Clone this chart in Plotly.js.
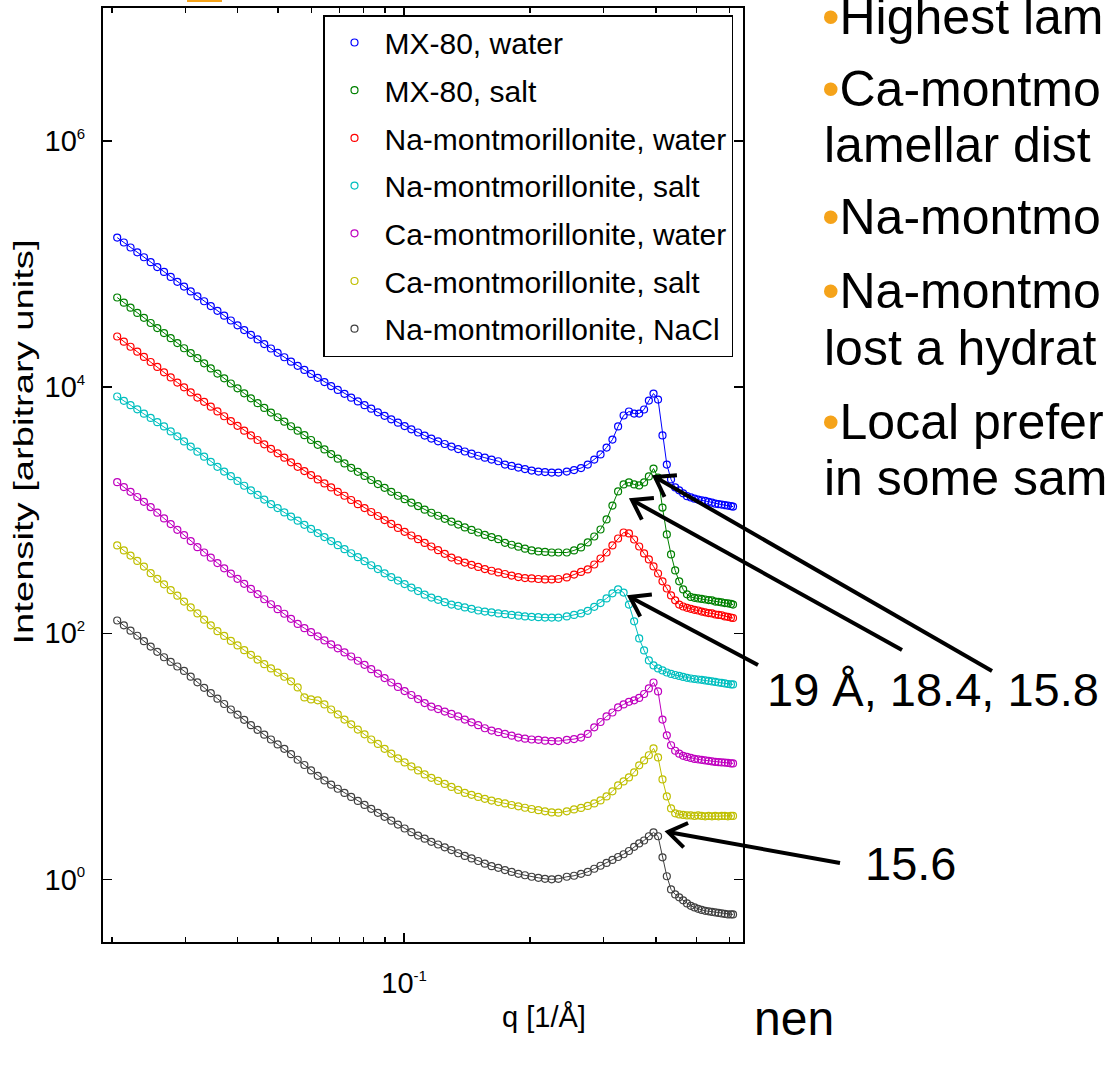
<!DOCTYPE html>
<html><head><meta charset="utf-8">
<script src="https://cdn.plot.ly/plotly-3.0.1.min.js"></script>
<style>html,body{margin:0;padding:0;background:#fff;} #chart{width:1106px;height:1070px;}</style>
</head><body><div id="chart"></div>
<script>
// scattering vector q [1/Å]
const q = [0.0206,0.02137,0.02217,0.02301,0.02387,0.02477,0.02569,0.02666,0.02766,0.02869,
0.02977,0.03088,0.03204,0.03325,0.03449,0.03578,0.03713,0.03852,0.03996,0.04146,
0.04302,0.04463,0.0463,0.04804,0.04984,0.05171,0.05365,0.05566,0.05775,0.05991,
0.06216,0.06449,0.06691,0.06942,0.07202,0.07472,0.07752,0.08043,0.08345,0.08657,
0.08982,0.09319,0.09668,0.1003,0.1041,0.108,0.112,0.1162,0.1206,0.1251,
0.1298,0.1347,0.1397,0.145,0.1504,0.156,0.1619,0.168,0.1743,0.1808,
0.1876,0.1946,0.2019,0.2095,0.2173,0.2255,0.2339,
0.245,0.255,0.265,0.275,0.285,0.295,0.305,0.315,0.325,0.335,
0.345,0.355,0.365,0.375,0.385,0.395,0.405,0.415,0.425,0.435,
0.445,0.455,0.465,0.475,0.485,0.495,0.505,0.515,0.525,0.535,
0.545,0.555,0.565,0.575,0.585,0.595,0.605,0.612];

const mx80Water = [1.642e5,1.498e5,1.364e5,1.245e5,1.136e5,1.036e5,9.45e4,8.63e4,7.87e4,7.18e4,
6.57e4,5.99e4,5.47e4,4.99e4,4.56e4,4.17e4,3.81e4,3.48e4,3.18e4,2.91e4,
2.66e4,2.44e4,2.24e4,2.06e4,1.90e4,1.75e4,1.61e4,1.49e4,1.38e4,1.28e4,
1.19e4,1.10e4,1.02e4,9.49e3,8.82e3,8.21e3,7.65e3,7.14e3,6.68e3,6.24e3,
5.85e3,5.48e3,5.14e3,4.83e3,4.54e3,4.28e3,4.04e3,3.82e3,3.63e3,3.45e3,
3.29e3,3.14e3,3.00e3,2.88e3,2.77e3,2.67e3,2.58e3,2.50e3,2.35e3,2.29e3,
2.22e3,2.16e3,2.10e3,2.06e3,2.04e3,2.02e3,2.02e3,
2.06e3,2.12e3,2.20e3,2.35e3,2.58e3,2.84e3,3.23e3,3.75e3,4.79e3,5.88e3,
6.34e3,6.10e3,6.10e3,6.58e3,7.78e3,8.87e3,7.93e3,4.05e3,2.35e3,1.78e3,
1.53e3,1.45e3,1.37e3,1.30e3,1.27e3,1.24e3,1.22e3,1.20e3,1.19e3,1.17e3,
1.15e3,1.13e3,1.12e3,1.11e3,1.10e3,1.09e3,1.08e3,1.07e3];

const mx80Salt = [5.35e4,4.86e4,4.42e4,4.01e4,3.66e4,3.32e4,3.02e4,2.75e4,2.50e4,2.28e4,
2.07e4,1.89e4,1.72e4,1.56e4,1.42e4,1.29e4,1.18e4,1.07e4,9.78e3,8.90e3,
8.11e3,7.41e3,6.78e3,6.21e3,5.69e3,5.24e3,4.81e3,4.43e3,4.07e3,3.72e3,
3.40e3,3.12e3,2.86e3,2.62e3,2.40e3,2.21e3,2.05e3,1.90e3,1.76e3,1.63e3,
1.52e3,1.41e3,1.31e3,1.23e3,1.15e3,1.08e3,1.01e3,953,901,851,
806,764,725,691,659,630,605,581,543,524,
505,487,471,462,458,453,453,
453,471,498,547,611,697,841,1090,1420,1620,
1680,1620,1590,1680,1880,2180,1840,1050,635,437,
324,264,227,207,197,194,192,190,188,186,
185,181,180,178,176,175,173,171];

const naWater = [2.58e4,2.34e4,2.13e4,1.94e4,1.76e4,1.60e4,1.46e4,1.32e4,1.20e4,1.09e4,
9.96e3,9.06e3,8.23e3,7.60e3,6.94e3,6.35e3,5.80e3,5.30e3,4.85e3,4.43e3,
4.05e3,3.72e3,3.43e3,3.15e3,2.90e3,2.67e3,2.45e3,2.25e3,2.08e3,1.93e3,
1.78e3,1.65e3,1.53e3,1.41e3,1.31e3,1.21e3,1.12e3,1.04e3,967,897,
831,773,717,667,623,581,542,507,473,442,
412,391,375,360,346,332,322,312,303,294,
286,281,279,276,274,274,276,
284,300,315,330,362,405,453,517,589,659,
647,578,507,445,398,349,306,264,231,203,
185,171,165,161,158,155,153,150,148,146,
145,142,141,140,137,136,134,133];

const naSalt = [8.39e3,7.74e3,7.14e3,6.60e3,6.09e3,5.62e3,5.19e3,4.79e3,4.37e3,3.98e3,
3.62e3,3.29e3,2.99e3,2.72e3,2.47e3,2.25e3,2.06e3,1.89e3,1.73e3,1.58e3,
1.45e3,1.33e3,1.22e3,1.12e3,1.04e3,960,887,822,761,704,
652,605,561,520,482,447,415,385,357,332,
307,286,268,251,235,220,206,195,187,179,
171,167,162,158,153,150,148,145,143,141,
139,137,136,135,134,134,134,
137,141,145,152,164,176,192,211,227,214,
171,125,90.7,72.5,60.1,54.8,51.8,49.9,48.0,46.7,
45.8,45.0,44.2,43.4,42.9,42.5,42.1,41.8,41.4,41.0,
40.6,40.2,39.8,39.5,39.1,38.7,38.4,38.4];

const caWater = [1.69e3,1.54e3,1.41e3,1.28e3,1.17e3,1.06e3,954,858,771,693,
628,561,501,453,411,372,337,305,277,252,
229,208,189,172,157,144,131,119,110,102,
94.4,87.4,81.1,75.4,69.8,64.7,59.8,55.4,51.1,47.0,
43.2,39.8,36.6,33.9,31.5,29.2,27.1,25.3,24.2,23.1,
22.1,21.1,19.9,18.9,17.9,16.9,16.2,15.7,15.2,14.7,
14.2,13.9,13.7,13.6,13.4,13.3,13.3,
13.6,13.8,14.2,15.2,17.2,19.0,21.1,22.7,25.0,26.4,
27.7,28.5,29.8,32.1,35.6,39.8,33.7,19.9,14.8,12.3,
11.1,10.5,10.1,9.89,9.70,9.53,9.44,9.35,9.26,9.18,
9.09,9.01,8.96,8.92,8.89,8.84,8.76,8.76];

const caSalt = [517,471,428,387,348,308,277,250,224,202,
181,162,145,129,116,104,95.1,86.6,79.6,72.9,
66.8,61.1,56.1,51.8,47.9,44.3,40.7,36.3,30.1,29.0,
28.5,26.4,24.0,21.9,19.9,18.2,16.5,15.1,13.7,12.6,
11.5,10.5,9.61,8.92,8.28,7.68,7.13,6.68,6.31,5.97,
5.64,5.33,5.04,4.86,4.68,4.51,4.37,4.25,4.14,4.02,
3.92,3.82,3.73,3.65,3.57,3.50,3.48,
3.57,3.70,3.81,3.95,4.14,4.38,4.72,5.19,5.80,6.25,
6.74,7.40,8.44,9.26,10.2,11.6,9.80,6.49,4.72,3.77,
3.44,3.37,3.34,3.31,3.31,3.28,3.31,3.28,3.25,3.28,
3.25,3.28,3.25,3.28,3.28,3.25,3.28,3.28];

const naNaCl = [127,116,105,95.4,86.3,78.0,70.6,63.8,58.5,53.7,
49.4,44.4,39.9,36.0,32.6,29.4,26.6,24.0,21.8,19.8,
17.9,16.4,15.0,13.7,12.5,11.5,10.4,9.38,8.50,7.68,
6.94,6.37,5.88,5.45,5.04,4.68,4.34,4.03,3.74,3.47,
3.22,3.00,2.79,2.59,2.42,2.27,2.14,2.02,1.92,1.82,
1.73,1.63,1.55,1.48,1.41,1.34,1.28,1.24,1.19,1.15,
1.11,1.08,1.05,1.03,1.01,1.00,1.01,
1.05,1.07,1.11,1.15,1.22,1.29,1.36,1.44,1.52,1.60,
1.70,1.84,1.96,2.07,2.24,2.41,2.24,1.51,1.06,0.829,
0.755,0.714,0.675,0.638,0.609,0.592,0.576,0.565,0.555,0.550,
0.544,0.539,0.534,0.529,0.524,0.519,0.519,0.519];

const seriesNames = ['MX-80, water','MX-80, salt','Na-montmorillonite, water','Na-montmorillonite, salt',
  'Ca-montmorillonite, water','Ca-montmorillonite, salt','Na-montmorillonite, NaCl'];
const seriesValues = [mx80Water, mx80Salt, naWater, naSalt, caWater, caSalt, naNaCl];
const seriesColors = ['#0000ff','#008000','#ff0000','#00bfbf','#bf00bf','#bfbf00','#404040'];

const SUP = (e) => '10<sup><span style="font-size:15px">' + e + '</span></sup>';
const yTickVals = [1, 100, 1e4, 1e6];
const yTickText = [SUP('0'), SUP('2'), SUP('4'), SUP('6')];
const xTickVals = [0.1];
const xTickText = [SUP('-1')];
const xMinorVals = [0.02,0.03,0.04,0.05,0.06,0.07,0.08,0.09,0.2,0.3,0.4,0.5,0.6];

const traces = [];
seriesValues.forEach((vals, i) => {
  // thin connecting trace (keeps the dense sampled band continuous), hidden from legend
  traces.push({type:'scatter', mode:'lines', x:q, y:vals, name:seriesNames[i], legendgroup:'g' + i,
    showlegend:false, hoverinfo:'skip', line:{color:seriesColors[i], width:1}});
  traces.push({type:'scatter', mode:'markers', x:q, y:vals, name:seriesNames[i], legendgroup:'g' + i,
    marker:{symbol:'circle-open', size:7, color:seriesColors[i], line:{width:1.2, color:seriesColors[i]}}});
});

const FONT = 'Liberation Sans, Arial, Helvetica, sans-serif';
const orange = '#f5a31a';
const bullet = '<span style="color:' + orange + '">•</span>';
function txt(t, x, y, size) {
  return {xref:'paper', yref:'paper', x:x, y:y, xanchor:'left', yanchor:'middle', showarrow:false,
    text:t, font:{family:FONT, size:size, color:'#000'}};
}

const annotations = [
  txt(bullet + 'Highest lam', 1.1203, 0.98983, 50),
  txt(bullet + 'Ca-montmo', 1.1203, 0.91381, 50),
  txt('lamellar dist', 1.1234, 0.85385, 50),
  txt(bullet + 'Na-montmo', 1.1203, 0.77570, 50),
  txt(bullet + 'Na-montmo', 1.1203, 0.69647, 50),
  txt('lost a hydrat', 1.1234, 0.63544, 50),
  txt(bullet + 'Local prefer', 1.1203, 0.55728, 50),
  txt('in some sam', 1.1234, 0.49732, 50),
  txt('19 Å, 18.4, 15.8', 1.0344, 0.27034, 47),
  txt('15.6', 1.1875, 0.08437, 47),
  txt('nen', 1.0141, -0.0814, 48)
];

// arrows (pixel geometry of the slide): head -> tail
const arrowDefs = [
  {head:[655,477], tail:[992,671]},
  {head:[632,500], tail:[902,650]},
  {head:[630,597], tail:[758,665]},
  {head:[668,832], tail:[840,863]}
];
const PX = (px) => (px - 103) / 640;
const PY = (py) => (942 - py) / 934;
const shapes = [{type:'rect', xref:'paper', yref:'paper', x0:0.13125, x1:0.1859, y0:1.00642, y1:1.0086,
  fillcolor:orange, line:{width:0}}];
arrowDefs.forEach(a => {
  const [hx, hy] = a.head, [tx, ty] = a.tail;
  shapes.push({type:'line', xref:'paper', yref:'paper', x0:PX(tx), y0:PY(ty), x1:PX(hx), y1:PY(hy),
    line:{color:'#000', width:4}});
  const dx = tx - hx, dy = ty - hy, d = Math.hypot(dx, dy);
  const ux = dx / d, uy = dy / d, L = 22, ang = 0.6;
  const p1 = [hx + L * (ux * Math.cos(ang) - uy * Math.sin(ang)), hy + L * (ux * Math.sin(ang) + uy * Math.cos(ang))];
  const p2 = [hx + L * (ux * Math.cos(-ang) - uy * Math.sin(-ang)), hy + L * (ux * Math.sin(-ang) + uy * Math.cos(-ang))];
  shapes.push({type:'path', xref:'paper', yref:'paper',
    path:'M' + PX(p1[0]) + ',' + PY(p1[1]) + ' L' + PX(hx) + ',' + PY(hy) + ' L' + PX(p2[0]) + ',' + PY(p2[1]),
    line:{color:'#000', width:4}});
});

const axisCommon = {
  showline:true, linecolor:'#000', linewidth:2, mirror:'allticks', ticks:'inside', tickcolor:'#000',
  tickwidth:1.5, showgrid:false, zeroline:false, automargin:false
};

const layout = {
  width:1106, height:1070,
  margin:{l:103, r:363, t:8, b:128, pad:0},
  paper_bgcolor:'#ffffff', plot_bgcolor:'#ffffff',
  font:{family:FONT, color:'#000'},
  showlegend:true,
  legend:{x:0.34375, y:0.9925, xanchor:'left', yanchor:'top', bgcolor:'#ffffff', bordercolor:'#000',
    borderwidth:1.5, font:{family:FONT, size:30, color:'#000'}, tracegroupgap:5.7, itemwidth:50},
  xaxis:Object.assign({}, axisCommon, {
    type:'log', range:[-1.7201, -0.1894], ticklen:9, tickmode:'array', tickvals:xTickVals, ticktext:xTickText,
    tickfont:{family:FONT, size:29, color:'#000'}, ticklabelstandoff:14,
    minor:{tickmode:'array', tickvals:xMinorVals, ticks:'inside', ticklen:5, tickwidth:1.5, tickcolor:'#000', showgrid:false},
    title:{text:'q [1/Å]', font:{family:FONT, size:29, color:'#000'}, standoff:30}
  }),
  yaxis:Object.assign({}, axisCommon, {
    type:'log', range:[-0.509, 7.081], ticklen:9, tickmode:'array', tickvals:yTickVals, ticktext:yTickText,
    tickfont:{family:FONT, size:29, color:'#000'}, ticklabelstandoff:10,
    title:{text:'Intensity [arbitrary units]', font:{family:FONT, size:27, color:'#000'}, standoff:20}
  }),
  annotations:annotations,
  shapes:shapes
};

Plotly.newPlot('chart', traces, layout, {staticPlot:true, displayModeBar:false}).then(gd => {
  function place(sel, cx, cy, len) {
    const el = gd.querySelector(sel);
    if (!el) return;
    if (len) { el.setAttribute('textLength', String(len)); el.setAttribute('lengthAdjust', 'spacingAndGlyphs'); }
    const r = el.getBoundingClientRect();
    const dx = cx - (r.left + r.width / 2), dy = cy - (r.top + r.height / 2);
    el.setAttribute('transform', 'translate(' + dx + ',' + dy + ') ' + (el.getAttribute('transform') || ''));
  }
  place('.ytitle', 24, 442, 405);
  place('.xtitle', 544, 1017, 0);
});
</script>
</body></html>
